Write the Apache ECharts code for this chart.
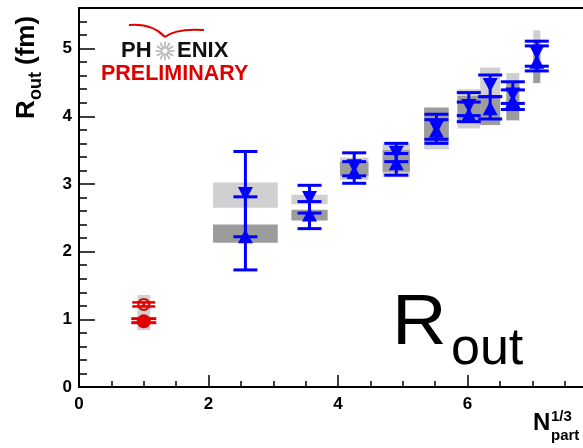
<!DOCTYPE html>
<html>
<head>
<meta charset="utf-8">
<script src="https://cdn.jsdelivr.net/npm/echarts@6/dist/echarts.min.js"></script>
<style>
  html, body { margin: 0; padding: 0; background: #fff; }
  #chart { width: 583px; height: 448px; }
</style>
</head>
<body>
<div id="chart"></div>
<script>
// ---- data -------------------------------------------------------------
// reference system (red), one point
const refX      = [1.0];
const refXErr   = [0.10];
const refOpen   = [1.22], refOpenLo = [1.19], refOpenHi = [1.25];
const refFill   = [0.97], refFillLo = [0.95], refFillHi = [1.01];
const refSysLo  = [0.84], refSysHi  = [1.36];

// heavy-ion points (blue)
const auX      = [2.57, 3.56, 4.25, 4.90, 5.52, 6.02, 6.35, 6.70, 7.07];
const auXErr   = [0.50, 0.28, 0.22, 0.21, 0.19, 0.175, 0.155, 0.10, 0.055];
// down-triangle set, light systematic box
const downVal  = [2.86, 2.80, 3.27, 3.47, 3.84, 4.16, 4.47, 4.33, 4.95];
const downLo   = [2.22, 2.57, 3.12, 3.33, 3.66, 4.01, 4.29, 4.19, 4.74];
const downHi   = [3.48, 2.98, 3.46, 3.60, 4.03, 4.35, 4.61, 4.51, 5.11];
const downSysLo = [2.65, 2.70, 3.06, 3.10, 3.51, 3.82, 4.30, 4.05, 4.70];
const downSysHi = [3.02, 2.84, 3.39, 3.60, 4.02, 4.40, 4.72, 4.64, 5.27];
// up-triangle set, dark systematic box
const upVal    = [2.22, 2.54, 3.17, 3.30, 3.78, 4.02, 4.11, 4.22, 4.80];
const upLo     = [1.73, 2.34, 3.01, 3.13, 3.60, 3.92, 3.96, 4.10, 4.67];
const upHi     = [2.81, 2.74, 3.33, 3.45, 3.95, 4.21, 4.29, 4.39, 5.04];
const upSysLo  = [2.13, 2.46, 3.12, 3.18, 3.62, 3.92, 3.87, 3.94, 4.49];
const upSysHi  = [2.40, 2.62, 3.33, 3.50, 4.13, 4.30, 4.30, 4.52, 5.10];

// axis ranges
const xRange = [0, 8];
const yRange = [0, 5.6];

// ---- styling ----------------------------------------------------------
const LIGHT = '#d0d0d0', DARK = '#9c9c9c', BLUE = '#0000ff', RED = '#e00000';
const FONT = '"Liberation Sans", Arial, Helvetica, sans-serif';

// ---- renderers --------------------------------------------------------
function renderBoxes(params, api) {
  const x = api.value(0), dx = api.value(1);
  const rect = (lo, hi, fill) => {
    const a = api.coord([x - dx, hi]), b = api.coord([x + dx, lo]);
    return { type: 'rect', shape: { x: a[0], y: a[1], width: b[0] - a[0], height: b[1] - a[1] },
             style: { fill: fill } };
  };
  const kids = [rect(api.value(2), api.value(3), LIGHT)];
  if (api.value(4) < api.value(5)) kids.push(rect(api.value(4), api.value(5), DARK));
  return { type: 'group', children: kids };
}

function markerShape(kind, c, color) {
  const w = 7.5, h = 6.5;
  if (kind === 'down') {
    return { type: 'polygon', shape: { points: [[c[0] - w, c[1] - h], [c[0] + w, c[1] - h], [c[0], c[1] + h + 1]] },
             style: { fill: color } };
  }
  if (kind === 'up') {
    return { type: 'polygon', shape: { points: [[c[0] - w, c[1] + h], [c[0] + w, c[1] + h], [c[0], c[1] - h - 1]] },
             style: { fill: color } };
  }
  if (kind === 'ring') {
    return { type: 'circle', shape: { cx: c[0], cy: c[1], r: 5.5 },
             style: { fill: 'none', stroke: color, lineWidth: 2 } };
  }
  return { type: 'circle', shape: { cx: c[0], cy: c[1], r: 7 }, style: { fill: color } };
}

function makeRender(kind, color, capHalf, lw) {
  return function (params, api) {
    const x = api.value(0), y = api.value(1), lo = api.value(2), hi = api.value(3);
    const c = api.coord([x, y]), pl = api.coord([x, lo]), ph = api.coord([x, hi]);
    const st = { stroke: color, lineWidth: lw };
    return {
      type: 'group',
      children: [
        { type: 'line', shape: { x1: c[0], y1: pl[1], x2: c[0], y2: ph[1] }, style: st },
        { type: 'line', shape: { x1: c[0] - capHalf, y1: pl[1], x2: c[0] + capHalf, y2: pl[1] }, style: st },
        { type: 'line', shape: { x1: c[0] - capHalf, y1: ph[1], x2: c[0] + capHalf, y2: ph[1] }, style: st },
        markerShape(kind, c, color)
      ]
    };
  };
}

const zip = (...arrs) => arrs[0].map((_, i) => arrs.map(a => a[i]));

const boxData = zip(auX, auXErr, downSysLo, downSysHi, upSysLo, upSysHi)
  .concat(zip(refX, refXErr, refSysLo, refSysHi, refSysLo, refSysLo));

// ---- text helpers -----------------------------------------------------
function txt(x, baseline, str, size, weight, color, align, extra) {
  return Object.assign({
    type: 'text', x: x, y: baseline - 0.35 * size, silent: true,
    style: { text: str, font: weight + ' ' + size + 'px ' + FONT, fill: color,
             align: align || 'left', verticalAlign: 'middle' }
  }, extra || {});
}

// starburst between "PH" and "ENIX"
const star = [];
for (let k = 0; k < 12; k++) {
  const a = k * Math.PI / 6;
  star.push({ type: 'line', silent: true,
    shape: { x1: 165 + 2.5 * Math.cos(a), y1: 51 + 2.5 * Math.sin(a), x2: 165 + 9.5 * Math.cos(a), y2: 51 + 9.5 * Math.sin(a) },
    style: { stroke: '#b4b4b4', lineWidth: 1.6 } });
}

const graphics = [
  // logo arc
  { type: 'bezierCurve', silent: true, shape: { x1: 129, y1: 25, cpx1: 152, cpy1: 23, x2: 165, y2: 37 },
    style: { stroke: RED, lineWidth: 2, fill: 'none' } },
  { type: 'bezierCurve', silent: true, shape: { x1: 165, y1: 37, cpx1: 176, cpy1: 28, x2: 204, y2: 30 },
    style: { stroke: RED, lineWidth: 2, fill: 'none' } },
  txt(121, 59, 'PH', 22, 'bold', '#111'),
  txt(177, 59, 'ENIX', 22, 'bold', '#111'),
  txt(101, 82, 'PRELIMINARY', 21.5, 'bold', RED),
  // big label
  txt(392, 349, 'R', 70, 'normal', '#000', 'left', { scaleX: 1.08, originX: 0, originY: 0 }),
  txt(451, 368, 'out', 52, 'normal', '#000'),
  // x axis title
  txt(533, 432, 'N', 24, 'bold', '#000'),
  txt(551, 422, '1/3', 15, 'bold', '#000'),
  txt(551, 441, 'part', 15, 'bold', '#000'),
  // y axis title, rotated
  { type: 'group', x: 36, y: 119, rotation: Math.PI / 2, silent: true,
    children: [
      txt(0, 0, 'R', 26, 'bold', '#000'),
      txt(19, 6, 'out', 18, 'bold', '#000'),
      txt(54, 0, '(fm)', 26, 'bold', '#000')
    ] }
].concat(star);

const labelStyle = { color: '#000', fontFamily: FONT, fontWeight: 'bold', fontSize: 17 };

const option = {
  animation: false,
  backgroundColor: '#fff',
  grid: { left: 79, top: 8, right: -14, bottom: 61, show: true, borderColor: '#000', borderWidth: 2,
          backgroundColor: 'transparent', containLabel: false, outerBoundsMode: 'none' },
  xAxis: [
    { type: 'value', min: xRange[0], max: xRange[1], interval: 2, position: 'bottom',
      axisLine: { show: true, onZero: false, lineStyle: { color: '#000', width: 2 } },
      axisTick: { show: true, inside: true, length: 12, lineStyle: { color: '#000', width: 1.5 } },
      axisLabel: Object.assign({ margin: 9 }, labelStyle),
      splitLine: { show: false } },
    { type: 'value', min: xRange[0], max: xRange[1], interval: 0.5, position: 'bottom', offset: 0,
      axisLine: { show: false },
      axisTick: { show: true, inside: true, length: 6, lineStyle: { color: '#000', width: 1.5 } },
      axisLabel: { show: false }, splitLine: { show: false } }
  ],
  yAxis: [
    { type: 'value', min: yRange[0], max: yRange[1], interval: 1, position: 'left',
      axisLine: { show: true, onZero: false, lineStyle: { color: '#000', width: 2 } },
      axisTick: { show: true, inside: true, length: 16, lineStyle: { color: '#000', width: 1.5 } },
      axisLabel: Object.assign({ margin: 7, showMaxLabel: false }, labelStyle),
      splitLine: { show: false } },
    { type: 'value', min: yRange[0], max: yRange[1], interval: 0.2, position: 'left', offset: 0,
      axisLine: { show: false },
      axisTick: { show: true, inside: true, length: 8, lineStyle: { color: '#000', width: 1.5 } },
      axisLabel: { show: false }, splitLine: { show: false } }
  ],
  graphic: graphics,
  series: [
    { type: 'custom', name: 'systematics', z: 1, renderItem: renderBoxes,
      encode: { x: 0, y: 2 }, data: boxData },
    { type: 'custom', name: 'down', z: 3, renderItem: makeRender('down', BLUE, 12, 3),
      encode: { x: 0, y: 1 }, data: zip(auX, downVal, downLo, downHi) },
    { type: 'custom', name: 'up', z: 3, renderItem: makeRender('up', BLUE, 12, 3),
      encode: { x: 0, y: 1 }, data: zip(auX, upVal, upLo, upHi) },
    { type: 'custom', name: 'ref open', z: 3, renderItem: makeRender('ring', RED, 11.5, 2.5),
      encode: { x: 0, y: 1 }, data: zip(refX, refOpen, refOpenLo, refOpenHi) },
    { type: 'custom', name: 'ref filled', z: 3, renderItem: makeRender('dot', RED, 12.5, 3),
      encode: { x: 0, y: 1 }, data: zip(refX, refFill, refFillLo, refFillHi) }
  ]
};

const chart = echarts.init(document.getElementById('chart'), null, { renderer: 'canvas' });
chart.setOption(option);
</script>
</body>
</html>
